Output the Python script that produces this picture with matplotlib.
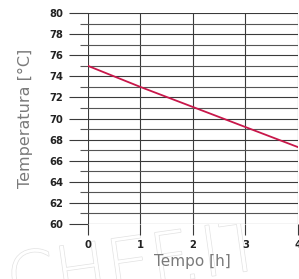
import matplotlib
matplotlib.use("Agg")
import matplotlib.pyplot as plt
import matplotlib.patheffects as pe

# data
tempo = [0, 1, 2, 3, 4]
temperatura = [75.0, 73.0, 71.1, 69.2, 67.3]
x_ticks = [0, 1, 2, 3, 4]
y_ticks = list(range(60, 81, 2))
y_minor = list(range(61, 80, 2))

fig = plt.figure(figsize=(2.99, 2.79), dpi=100)
ax = fig.add_axes([0.294, 0.197, 0.702, 0.756])

# faint watermark behind everything
fig.text(0.01, -0.09, "CHEF.IT", fontsize=50, color="white", zorder=-5,
         rotation=8, fontweight="light",
         path_effects=[pe.withStroke(linewidth=1.0, foreground="#e2e2e2")])

ax.plot(tempo, temperatura, color="#c8174a", linewidth=1.3, zorder=3)

ax.set_xlim(0, 4)
ax.set_ylim(60, 80)
ax.set_xticks(x_ticks)
ax.set_yticks(y_ticks)
ax.set_yticks(y_minor, minor=True)

ax.grid(True, which="major", axis="both", color="#3a3a3a", linewidth=0.8)
ax.grid(True, which="minor", axis="y", color="#555555", linewidth=0.8)
ax.set_axisbelow(True)
for s in ax.spines.values():
    s.set_visible(False)

ax.tick_params(axis="y", which="major", length=14, width=0.8, color="#3a3a3a",
               pad=3.5, labelsize=7.2)
ax.tick_params(axis="y", which="minor", length=6, width=0.8, color="#555555")
ax.tick_params(axis="x", which="major", length=8, width=0.8, color="#3a3a3a",
               pad=3.5, labelsize=7.2)
for lab in ax.get_xticklabels() + ax.get_yticklabels():
    lab.set_fontweight("bold")
    lab.set_color("#222222")

ax.set_ylabel("Temperatura [°C]", fontsize=11.5, color="#7a7a7a", labelpad=12)
ax.set_xlabel("Tempo [h]", fontsize=11, color="#7a7a7a", labelpad=3)

fig.savefig("out.png", dpi=100)
